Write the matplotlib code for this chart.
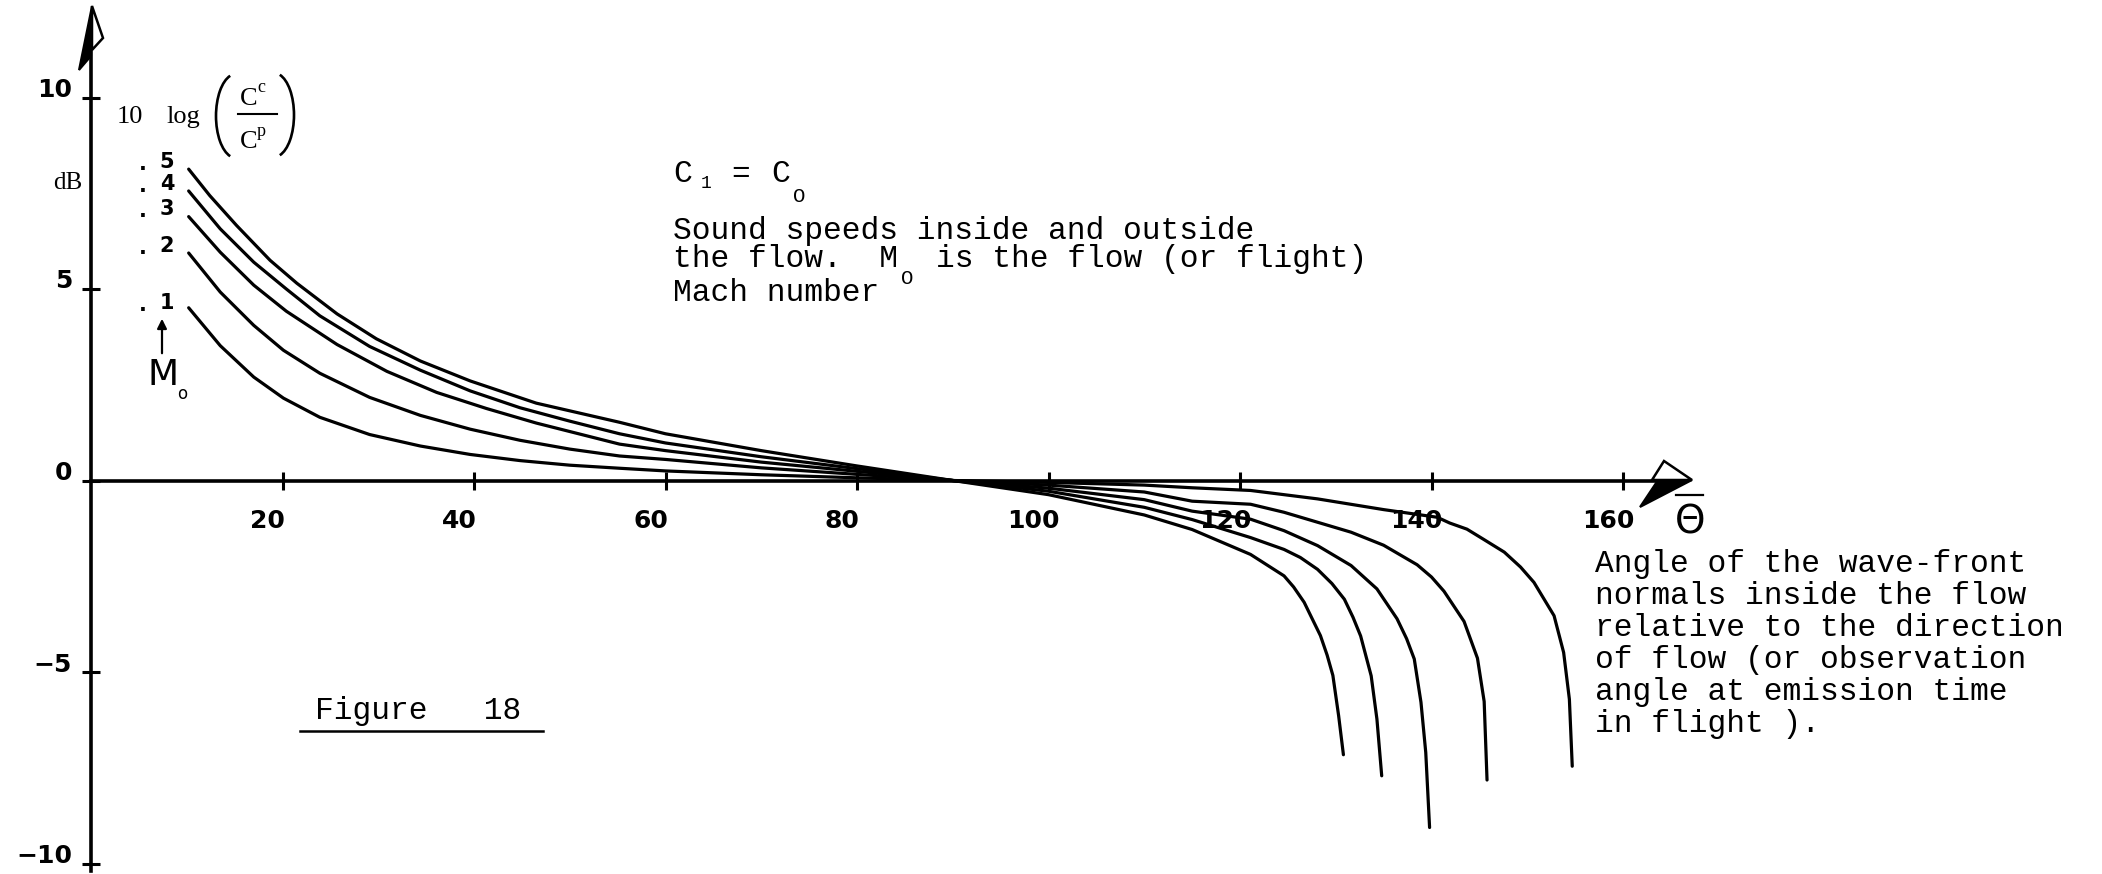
import numpy as np
import matplotlib.pyplot as plt
from matplotlib.patches import Polygon, Arc
import matplotlib.transforms as mtransforms

# Figure 18 -- 10 log(Cc/Cp) against the wave-front normal angle, C1 = Co
# one curve per flow Mach number Mo = .1 ... .5

MACH_LABELS = ['.1', '.2', '.3', '.4', '.5']

THETA_M1 = [10.2, 13.5, 17.0, 20.1, 23.9, 29.1, 34.4, 39.6, 44.8, 50.0, 55.2, 60, 70, 80, 90,
            100, 110, 115, 121.1, 128.1, 135.0, 140.6, 141.9, 143.7, 145.4, 147.6, 149.3, 150.7,
            152.8, 153.8, 154.4, 154.7]
DB_M1 = [4.51, 3.52, 2.70, 2.15, 1.65, 1.20, 0.90, 0.68, 0.52, 0.40, 0.32, 0.25, 0.15, 0.07, 0.0,
         -0.05, -0.12, -0.19, -0.26, -0.48, -0.76, -0.96, -1.11, -1.27, -1.53, -1.87, -2.26, -2.66,
         -3.53, -4.49, -5.71, -7.46]

THETA_M2 = [10.2, 13.5, 17.0, 20.1, 23.9, 29.1, 34.4, 39.6, 44.8, 50.0, 55.2, 60, 70, 80, 90,
            100, 110, 115, 121.1, 124.6, 128.1, 131.6, 135.0, 138.5, 140.0, 141.3, 143.4, 144.8,
            145.5, 145.8]
DB_M2 = [5.94, 4.92, 4.05, 3.40, 2.80, 2.17, 1.70, 1.34, 1.05, 0.82, 0.64, 0.55, 0.33, 0.16, 0.0,
         -0.12, -0.30, -0.54, -0.62, -0.83, -1.09, -1.35, -1.69, -2.20, -2.52, -2.89, -3.68, -4.64,
         -5.77, -7.82]

THETA_M3 = [10.2, 13.5, 17.0, 20.4, 25.7, 30.9, 36.1, 41.3, 46.5, 55.2, 60, 70, 80, 90,
            100, 110, 115, 121.1, 124.6, 128.1, 131.6, 134.3, 136.4, 137.4, 138.2, 138.9, 139.4, 139.8]
DB_M3 = [6.89, 5.96, 5.10, 4.42, 3.55, 2.85, 2.30, 1.88, 1.50, 0.95, 0.78, 0.48, 0.24, 0.0,
         -0.20, -0.50, -0.80, -1.01, -1.31, -1.70, -2.22, -2.83, -3.61, -4.13, -4.66, -5.79, -7.10, -9.06]

THETA_M4 = [10.2, 13.5, 17.0, 20.4, 23.9, 29.1, 34.4, 39.6, 44.8, 50.0, 55.2, 60, 70, 80, 90,
            100, 110, 115, 121.1, 124.6, 126.3, 128.1, 129.6, 130.9, 131.8, 132.6, 133.7, 134.3, 134.8]
DB_M4 = [7.56, 6.57, 5.70, 5.00, 4.30, 3.50, 2.88, 2.34, 1.90, 1.55, 1.22, 0.98, 0.62, 0.31, 0.0,
         -0.28, -0.70, -1.02, -1.49, -1.80, -2.01, -2.32, -2.69, -3.10, -3.57, -4.06, -5.10, -6.23, -7.71]

THETA_M5 = [10.2, 12.4, 15.2, 18.7, 21.5, 25.7, 29.8, 34.4, 39.6, 46.5, 55.2, 60, 70, 80, 90,
            100, 110, 115, 121.1, 124.6, 125.6, 126.7, 127.5, 128.4, 129.1, 129.7, 130.3, 130.8]
DB_M5 = [8.13, 7.44, 6.66, 5.75, 5.15, 4.35, 3.70, 3.12, 2.60, 2.02, 1.52, 1.22, 0.78, 0.38, 0.0,
         -0.37, -0.90, -1.28, -1.93, -2.49, -2.78, -3.18, -3.59, -4.05, -4.56, -5.09, -6.14, -7.16]

X_TICKS = [20, 40, 60, 80, 100, 120, 140, 160]
Y_TICKS = [-10, -5, 0, 5, 10]

W, H, DPI = 2102, 874, 100
X0, Y0, SX, SY = 91, 480.5, 9.575, 38.3     # pixel origin and pixels per unit


def px(x, y):
    """Pixel position -> data coordinates."""
    return (x - X0) / SX, (Y0 - y) / SY


def fx(x, y):
    """Pixel position -> figure fraction."""
    return x / W, 1 - y / H


MONO = 'Liberation Mono'
SERIF = 'Liberation Serif'
TSIZE = 22.5
CW = 0.6 * TSIZE * DPI / 72        # typewriter character pitch in pixels

fig = plt.figure(figsize=(W / DPI, H / DPI), dpi=DPI)
ax = fig.add_axes([0, 0, 1, 1])
ax.set_xlim(-X0 / SX, (W - X0) / SX)
ax.set_ylim((Y0 - H) / SY, Y0 / SY)
ax.patch.set_visible(False)

# axes drawn through the origin
for s in ['top', 'right']:
    ax.spines[s].set_visible(False)
ax.spines['left'].set_position(('data', 0))
ax.spines['bottom'].set_position(('data', 0))
ax.spines['left'].set_bounds(-10.2, 11.4)
ax.spines['bottom'].set_bounds(0, 165.5)
for s in ['left', 'bottom']:
    ax.spines[s].set_linewidth(2.6)

ax.set_xticks(X_TICKS)
ax.set_yticks(Y_TICKS)
ax.set_xticklabels([str(t) for t in X_TICKS])
ax.set_yticklabels([str(t).replace('-', '\u2212') for t in Y_TICKS])
ax.tick_params(direction='inout', length=13, width=2.2, labelsize=18)
ax.tick_params(axis='x', pad=14)
ax.tick_params(axis='y', pad=7)
for lab in ax.get_xticklabels() + ax.get_yticklabels():
    lab.set_fontweight('bold')
for lab in ax.get_xticklabels():
    lab.set_transform(lab.get_transform() + mtransforms.ScaledTranslation(-0.15, 0, fig.dpi_scale_trans))
for lab in ax.get_yticklabels():
    lab.set_transform(lab.get_transform() + mtransforms.ScaledTranslation(0, 0.10, fig.dpi_scale_trans))

# arrow heads: filled barb on one side, open barb on the other
ax.add_patch(Polygon([px(92, 6), px(79, 70), px(91, 56)], closed=True, fc='black', ec='black', lw=1.5))
ax.add_patch(Polygon([px(92, 6), px(103, 38), px(92, 50)], closed=True, fc='white', ec='black', lw=1.8))
ax.add_patch(Polygon([px(1692, 480), px(1640, 507), px(1658, 480)], closed=True, fc='black', ec='black', lw=1.5))
ax.add_patch(Polygon([px(1692, 480), px(1664, 461), px(1652, 480)], closed=True, fc='white', ec='black', lw=1.8))

# curves
curves = [(THETA_M1, DB_M1), (THETA_M2, DB_M2), (THETA_M3, DB_M3), (THETA_M4, DB_M4), (THETA_M5, DB_M5)]
for th, db in curves:
    ax.plot(th, db, color='black', lw=2.3, solid_capstyle='round', solid_joinstyle='round')

# Mach number labels at the start of each curve
lab_y = [303, 246, 209, 184, 162]
for lab, y in zip(MACH_LABELS, lab_y):
    fig.text(*fx(143, y + 2), '.', fontsize=15, fontweight='bold', ha='center', va='center')
    fig.text(*fx(167, y), lab[1:], fontsize=15, fontweight='bold', ha='center', va='center')

ax.annotate('', xy=px(162, 316), xytext=px(162, 356),
            arrowprops=dict(arrowstyle='-|>', color='black', lw=1.6, mutation_scale=14))
fig.text(*fx(163, 375), 'M', fontsize=26, ha='center', va='center', family='DejaVu Sans')
fig.text(*fx(182, 394), 'o', fontsize=12, ha='center', va='center', family='DejaVu Sans')

# y-axis quantity: 10 log (Cc / Cp), dB
fig.text(*fx(117, 117), '10', family=SERIF, fontsize=19, ha='left', va='center')
fig.text(*fx(166, 117), 'log', family=SERIF, fontsize=19, ha='left', va='center')
ax.add_patch(Arc(px(236, 116), 40 / SX, 84 / SY, theta1=120, theta2=240, lw=1.9, color='black'))
ax.add_patch(Arc(px(274, 115), 40 / SX, 84 / SY, theta1=-60, theta2=60, lw=1.9, color='black'))
fig.text(*fx(240, 99), 'C', family=SERIF, fontsize=19, ha='left', va='center')
fig.text(*fx(257, 88), 'c', family=SERIF, fontsize=13, ha='left', va='center')
fig.text(*fx(240, 142), 'C', family=SERIF, fontsize=19, ha='left', va='center')
fig.text(*fx(257, 132), 'p', family=SERIF, fontsize=13, ha='left', va='center')
ax.plot(*zip(px(238, 114), px(277, 114)), color='black', lw=1.5)
fig.text(*fx(68, 183), 'dB', family=SERIF, fontsize=18, ha='center', va='center')

# x-axis quantity
fig.text(*fx(1690, 522), '\u0398', fontsize=28, ha='center', va='center', family='DejaVu Sans')
ax.plot(*zip(px(1676, 495), px(1703, 495)), color='black', lw=1.6)

# explanatory notes, typewritten
nx = 673
fig.text(*fx(nx, 174), 'C', family=MONO, fontsize=TSIZE, ha='left', va='center')
fig.text(*fx(nx + 28, 183), '1', family=MONO, fontsize=13, ha='left', va='center')
fig.text(*fx(nx + 58, 174), '=', family=MONO, fontsize=TSIZE, ha='left', va='center')
fig.text(*fx(nx + 98, 174), 'C', family=MONO, fontsize=TSIZE, ha='left', va='center')
fig.text(*fx(nx + 120, 196), 'O', family=MONO, fontsize=15, ha='left', va='center')
fig.text(*fx(nx, 231), 'Sound speeds inside and outside', family=MONO, fontsize=TSIZE, ha='left', va='center')
fig.text(*fx(nx, 259), 'the flow.  M', family=MONO, fontsize=TSIZE, ha='left', va='center')
fig.text(*fx(nx + 12 * CW + 3, 278), 'O', family=MONO, fontsize=15, ha='left', va='center')
fig.text(*fx(nx + 14 * CW, 259), 'is the flow (or flight)', family=MONO, fontsize=TSIZE, ha='left', va='center')
fig.text(*fx(nx, 293), 'Mach number', family=MONO, fontsize=TSIZE, ha='left', va='center')

note = ['Angle of the wave-front',
        'normals inside the flow',
        'relative to the direction',
        'of flow (or observation',
        'angle at emission time',
        'in flight ).']
for i, line in enumerate(note):
    fig.text(*fx(1595, 564 + 32 * i), line, family=MONO, fontsize=TSIZE, ha='left', va='center')

fig.text(*fx(315, 711), 'Figure   18', family=MONO, fontsize=TSIZE, ha='left', va='center')
ax.plot(*zip(px(300, 731), px(543, 731)), color='black', lw=1.8)

fig.savefig('out.png', dpi=DPI, facecolor='white')
